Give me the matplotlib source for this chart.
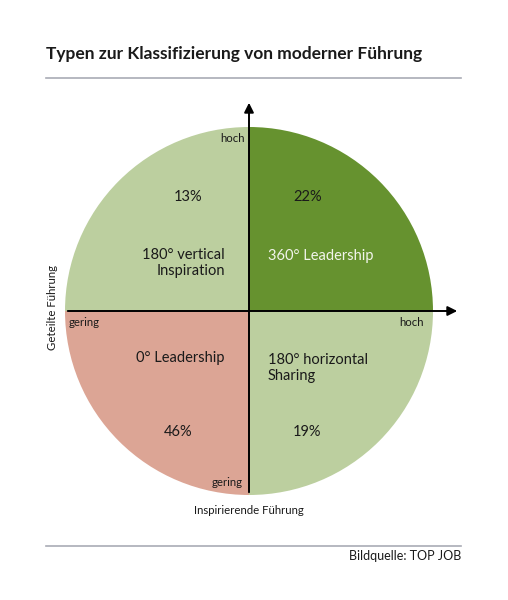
import numpy as np
import matplotlib.pyplot as plt
from matplotlib.patches import Wedge

plt.rcParams['font.family'] = ['Lato', 'DejaVu Sans']

# quadrants: upper-left, upper-right, lower-left, lower-right
names = ['180° vertical\nInspiration', '360° Leadership', '0° Leadership', '180° horizontal\nSharing']
shares = ['13%', '22%', '46%', '19%']
theta1 = [90, 0, 180, 270]
colors = ['#bccf9f', '#66922f', '#dca595', '#bccf9f']
name_colors = ['#1a1a1a', '#f2f5ec', '#1a1a1a', '#1a1a1a']

fig = plt.figure(figsize=(5.08, 6), dpi=100)
ax = fig.add_axes([0, 0, 1, 1])
ax.set_xlim(0, 508)
ax.set_ylim(600, 0)
ax.axis('off')

cx, cy, r = 249, 311, 184
for t1, c in zip(theta1, colors):
    # y axis is inverted, so mirror the angles
    ax.add_patch(Wedge((cx, cy), r, -(t1 + 90), -t1, facecolor=c, edgecolor='none'))

# axes arrows
ax.annotate('', xy=(cx, 100), xytext=(cx, cy + r),
            arrowprops=dict(arrowstyle='-|>', color='black', lw=1.4, mutation_scale=14))
ax.annotate('', xy=(460, cy), xytext=(cx - r, cy),
            arrowprops=dict(arrowstyle='-|>', color='black', lw=1.4, mutation_scale=14))

# quadrant texts
name_pos = [(225, 263, 'right'), (268, 256, 'left'), (224, 358, 'right'), (268, 368, 'left')]
share_pos = [(188, 197), (308, 197), (178, 432), (307, 432)]
for nm, sh, nc, (nx, ny, ha), (sx, sy) in zip(names, shares, name_colors, name_pos, share_pos):
    ax.text(nx, ny, nm, ha=ha, va='center', fontsize=10.5, color=nc, linespacing=1.25)
    ax.text(sx, sy, sh, ha='center', va='center', fontsize=10.5, color='#1a1a1a')

# axis end labels
small = 8.2
ax.text(245, 139, 'hoch', ha='right', va='center', fontsize=small, color='#1a1a1a')
ax.text(424, 323, 'hoch', ha='right', va='center', fontsize=small, color='#1a1a1a')
ax.text(69, 323, 'gering', ha='left', va='center', fontsize=small, color='#1a1a1a')
ax.text(243, 482, 'gering', ha='right', va='center', fontsize=small, color='#1a1a1a')
ax.text(52, 307, 'Geteilte Führung', ha='center', va='center', rotation=90, fontsize=small, color='#1a1a1a')
ax.text(249, 510, 'Inspirierende Führung', ha='center', va='center', fontsize=small, color='#1a1a1a')

# title, rules and source
ax.text(46, 54, 'Typen zur Klassifizierung von moderner Führung', ha='left', va='center',
        fontsize=12.5, fontweight='bold', color='#1a1a1a')
ax.plot([46, 461], [78, 78], color='#a9abb5', lw=1.2)
ax.plot([46, 461], [546, 546], color='#a9abb5', lw=1.2)
ax.text(461, 556, 'Bildquelle: TOP JOB', ha='right', va='center', fontsize=9, color='#1a1a1a')

fig.savefig('out.png', dpi=100, facecolor='white')
